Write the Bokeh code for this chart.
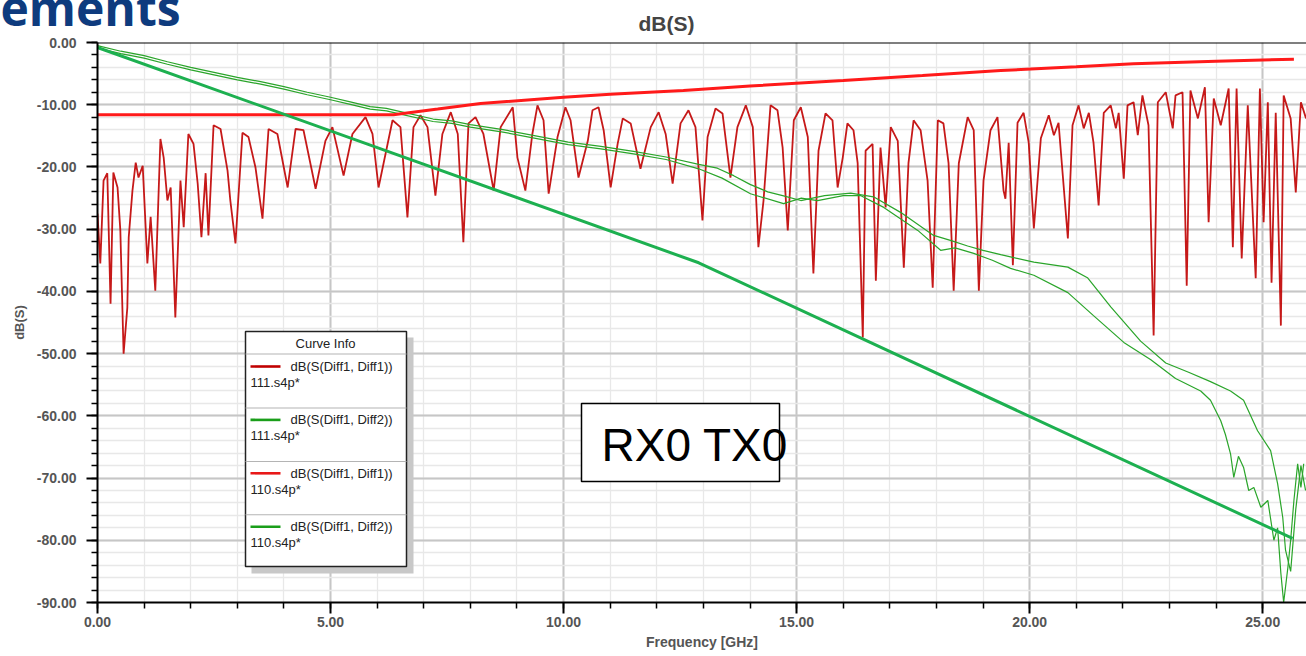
import math
from bokeh.plotting import figure
from bokeh.models import (Range1d, SingleIntervalTicker, NumeralTickFormatter, Label,
                          BoxAnnotation, Span, Title)
from bokeh.embed import file_html
from bokeh.resources import INLINE

# ---------------- data ----------------
# 111.s4p  dB(S(Diff1,Diff1))  - return loss, oscillating
rl111_f = [0.00, 0.06, 0.13, 0.21, 0.28, 0.34, 0.43, 0.49, 0.56, 0.64, 0.67, 0.75, 0.82, 0.88, 0.97,
           1.07, 1.14, 1.24, 1.35, 1.42, 1.50, 1.57, 1.67, 1.78, 1.85, 1.95, 2.06, 2.15, 2.23, 2.32,
           2.38, 2.49, 2.64, 2.79, 2.85, 2.96, 3.11, 3.24, 3.39, 3.54, 3.67, 3.86, 4.08, 4.25, 4.42,
           4.68, 4.89, 5.04, 5.28, 5.47, 5.75, 5.90, 6.03, 6.33, 6.50, 6.65, 6.78, 6.93, 7.08, 7.25,
           7.40, 7.58, 7.73, 7.85, 7.96, 8.11, 8.28, 8.50, 8.65, 8.91, 9.01, 9.18, 9.33, 9.44, 9.57,
           9.68, 9.87, 10.04, 10.15, 10.32, 10.52, 10.62, 10.75, 10.86, 11.01, 11.16, 11.27, 11.44,
           11.65, 11.87, 12.04, 12.19, 12.34, 12.51, 12.68, 12.83, 12.98, 13.09, 13.26, 13.41, 13.58,
           13.73, 13.91, 14.06, 14.18, 14.29, 14.44, 14.59, 14.70, 14.81, 14.94, 15.09, 15.24, 15.36,
           15.47, 15.62, 15.77, 15.88, 15.99, 16.09, 16.22, 16.31, 16.42, 16.48, 16.63, 16.70, 16.80,
           16.91, 17.02, 17.17, 17.30, 17.40, 17.51, 17.66, 17.81, 17.92, 18.03, 18.15, 18.26, 18.37,
           18.48, 18.67, 18.80, 18.91, 19.01, 19.16, 19.31, 19.44, 19.48, 19.55, 19.64, 19.74, 19.87,
           19.98, 20.09, 20.24, 20.41, 20.52, 20.62, 20.82, 20.92, 21.05, 21.16, 21.27, 21.37, 21.48,
           21.59, 21.74, 21.85, 21.91, 22.02, 22.10, 22.23, 22.32, 22.42, 22.55, 22.66, 22.75, 22.92,
           23.07, 23.13, 23.28, 23.37, 23.45, 23.61, 23.76, 23.84, 23.95, 24.10, 24.27, 24.36, 24.44,
           24.55, 24.68, 24.85, 24.94, 25.02, 25.11, 25.19, 25.28, 25.39, 25.45, 25.60, 25.71, 25.82,
           25.93]
rl111_db = [-27.5, -35.5, -22.2, -21.0, -42.0, -20.9, -23.3, -30.2, -50.0, -42.6, -31.3, -23.8, -19.3,
            -21.7, -19.8, -35.5, -28.0, -39.9, -15.5, -18.5, -25.4, -23.3, -44.2, -22.2, -29.7, -14.7,
            -16.3, -22.7, -31.3, -21.0, -31.0, -13.3, -13.9, -20.6, -25.4, -32.3, -14.5, -15.2, -20.1,
            -28.3, -13.9, -14.7, -23.3, -13.9, -14.1, -23.5, -15.8, -13.6, -21.4, -14.7, -12.0, -14.7,
            -23.3, -12.5, -13.6, -28.1, -13.6, -11.7, -13.6, -24.6, -14.7, -11.2, -14.7, -32.1, -13.0,
            -12.0, -14.7, -23.8, -13.6, -10.4, -18.5, -23.8, -14.7, -10.1, -12.5, -24.3, -15.2, -10.4,
            -12.5, -21.7, -15.8, -10.9, -10.4, -14.1, -23.3, -16.3, -12.2, -13.0, -20.3, -13.6, -11.2,
            -14.7, -22.7, -13.0, -10.9, -13.6, -28.6, -15.2, -10.6, -11.4, -21.7, -13.6, -10.1, -13.6,
            -32.9, -25.4, -10.1, -10.9, -16.9, -30.2, -12.5, -10.4, -15.2, -37.1, -17.4, -11.4, -12.5,
            -23.3, -18.5, -13.0, -14.1, -19.4, -47.4, -17.4, -16.3, -38.3, -16.9, -26.5, -13.6, -15.8,
            -36.2, -19.4, -12.5, -14.1, -22.2, -39.4, -12.5, -13.0, -19.4, -39.9, -19.4, -12.0, -14.1,
            -39.9, -22.2, -14.1, -12.0, -23.8, -25.1, -16.1, -35.8, -12.9, -11.3, -16.1, -29.9, -15.4,
            -11.7, -14.9, -12.9, -31.5, -13.3, -10.1, -13.8, -11.3, -16.1, -26.2, -11.3, -10.1, -13.8,
            -11.3, -21.9, -10.1, -9.6, -14.9, -8.5, -13.3, -47.1, -9.6, -8.0, -13.8, -8.5, -8.0, -39.1,
            -7.7, -12.2, -7.2, -28.9, -9.0, -13.3, -7.4, -32.9, -7.4, -34.7, -10.1, -37.9, -7.4, -28.9,
            -9.6, -38.6, -11.3, -45.5, -8.5, -12.2, -24.1, -9.6, -12.2]

# 111.s4p  dB(S(Diff1,Diff2))  - insertion loss, two close traces
il111a_f = [0.0, 0.5, 1.0, 1.5, 2.0, 2.5, 3.0, 3.5, 4.0, 4.5, 5.0, 5.4, 5.85, 6.2, 6.5, 7.2, 7.6, 8.0,
            8.7, 9.4, 10.1, 10.8, 11.5, 12.2, 12.9, 13.3, 13.65, 14.0, 14.38, 14.7, 15.09, 15.6, 16.16,
            16.65, 17.23, 17.94, 18.3, 18.67, 19.0, 19.38, 20.09, 20.82, 21.24, 21.74, 22.38, 22.92,
            23.41, 23.88, 24.31, 24.59, 24.89, 25.17, 25.32, 25.43, 25.49, 25.60, 25.71, 25.82, 25.92]
il111a_db = [-0.5, -1.4, -2.1, -3.1, -4.0, -4.8, -5.6, -6.3, -7.1, -8.0, -8.8, -9.5, -10.3, -10.6,
             -11.1, -12.3, -12.6, -13.2, -14.0, -15.0, -16.0, -16.7, -17.5, -18.4, -19.6, -20.2,
             -21.4, -22.8, -24.0, -24.6, -25.4, -24.6, -24.2, -24.8, -27.3, -31.0, -31.8, -32.7,
             -33.4, -34.1, -35.3, -36.1, -37.8, -42.5, -48.0, -51.5, -53.0, -54.5, -56.0, -57.5,
             -62.4, -65.6, -70.9, -76.3, -81.6, -85.0, -75.0, -68.0, -72.0]
il111b_f = [0.0, 0.5, 1.0, 1.5, 2.0, 2.5, 3.0, 3.5, 4.0, 4.5, 5.0, 5.4, 5.85, 6.2, 6.5, 7.2, 7.6, 8.0,
            8.7, 9.4, 10.1, 10.8, 11.5, 12.2, 12.9, 13.4, 14.01, 14.72, 15.1, 15.45, 16.0, 16.37,
            16.87, 17.6, 18.09, 18.4, 18.8, 19.2, 19.59, 20.09, 20.82, 21.37, 22.02, 22.6, 23.13,
            23.67, 23.88, 24.10, 24.20, 24.31, 24.38, 24.48, 24.59, 24.70, 24.81, 24.96, 25.11,
            25.24, 25.32, 25.39, 25.45, 25.54, 25.60, 25.67, 25.75, 25.82, 25.88]
il111b_db = [-0.9, -1.8, -2.5, -3.5, -4.4, -5.2, -6.0, -6.7, -7.5, -8.4, -9.2, -9.9, -10.7, -11.0,
             -11.5, -12.7, -13.0, -13.6, -14.4, -15.4, -16.4, -17.1, -17.9, -18.8, -20.3, -21.8,
             -24.3, -25.9, -25.0, -25.4, -24.6, -24.6, -26.5, -30.2, -33.4, -33.0, -33.9, -35.0,
             -36.3, -37.4, -40.2, -43.9, -48.2, -51.0, -54.0, -56.0, -57.5, -60.8, -63.0, -66.1,
             -69.9, -66.5, -68.3, -72.0, -71.5, -74.7, -73.6, -80.0, -78.0, -85.3, -90.0, -84.4,
             -80.0, -73.6, -67.7, -71.5, -67.7]

# 110.s4p  dB(S(Diff1,Diff1))  - smooth return loss
rl110_f = [0.0, 6.35, 7.3, 8.22, 10.0, 11.0, 12.57, 14.0, 16.0, 17.7, 19.38, 21.0, 22.23, 24.0, 25.67]
rl110_db = [-11.6, -11.6, -10.7, -9.8, -8.8, -8.3, -7.7, -7.0, -6.1, -5.3, -4.5, -3.9, -3.4, -3.0, -2.7]

# 110.s4p  dB(S(Diff1,Diff2))  - smooth insertion loss
il110_f = [0.0, 12.9, 25.64]
il110_db = [-0.8, -35.4, -79.7]

legend_names = ["dB(S(Diff1, Diff1))", "dB(S(Diff1, Diff2))", "dB(S(Diff1, Diff1))", "dB(S(Diff1, Diff2))"]
legend_files = ["111.s4p*", "111.s4p*", "110.s4p*", "110.s4p*"]
legend_colors = ["#c00000", "#1a9e1a", "#e81818", "#1a9e1a"]

# ---------------- figure ----------------
W, H = 1306, 656
p = figure(width=W, height=H, output_backend="svg", toolbar_location=None, title=None,
           x_range=Range1d(0, 25.94), y_range=Range1d(-90, 0),
           min_border_left=97, min_border_right=0, min_border_top=42, min_border_bottom=54,
           background_fill_color="white", border_fill_color="white")
p.outline_line_color = None

FONT = "Liberation Sans"

# chart title (nearest to the frame)
p.add_layout(Title(text="dB(S)", align="left", offset=541, standoff=11, vertical_align="top",
                   text_font=FONT, text_font_size="21px", text_font_style="bold",
                   text_color="#444444"), "above")
# slide-title fragment at the top-left corner (stacked above, with almost no height of its own)
try:
    p.add_layout(Title(text="ements", align="left", offset=-97, standoff=-66,
                       vertical_align="bottom", text_font="Open Sans", text_font_size="48px",
                       text_font_style="bold", text_color="#0e3b7e"), "above")
except ValueError:
    pass

for ax, iv in ((p.xaxis, 5), (p.yaxis, 10)):
    ax.ticker = SingleIntervalTicker(interval=iv, num_minor_ticks=5)
    ax.formatter = NumeralTickFormatter(format="0.00")
    ax.axis_line_color = "black"
    ax.axis_line_width = 2
    ax.major_tick_line_color = "black"
    ax.major_tick_line_width = 2
    ax.minor_tick_line_color = "black"
    ax.minor_tick_line_width = 1.5
    ax.major_tick_in = 0
    ax.major_tick_out = 11
    ax.minor_tick_in = 0
    ax.minor_tick_out = 6
    ax.major_label_text_font = FONT
    ax.major_label_text_font_size = "14px"
    ax.major_label_text_font_style = "bold"
    ax.major_label_text_color = "#555555"
    ax.axis_label_text_font = FONT
    ax.axis_label_text_font_style = "bold"
    ax.axis_label_text_color = "#555555"
p.yaxis.major_label_standoff = 10
p.xaxis.major_label_standoff = 3
p.xaxis.axis_label = "Frequency [GHz]"
p.xaxis.axis_label_text_font_size = "14px"
p.xaxis.axis_label_standoff = 4
p.yaxis.axis_label = "dB(S)"
p.yaxis.axis_label_text_font_size = "13px"
p.yaxis.axis_label_standoff = 7

for g in (p.xgrid, p.ygrid):
    g.grid_line_color = "#c6c6c6"
    g.grid_line_width = 2
    g.minor_grid_line_color = "#e8e8e8"
    g.minor_grid_line_width = 1.3

p.add_layout(Span(location=0, dimension="width", line_color="black", line_width=2))

# curves
p.line(rl111_f, rl111_db, line_color="#c00000", line_width=1.8, line_alpha=0.9)
p.line(il111a_f, il111a_db, line_color="#2aa52a", line_width=1.2)
p.line(il111b_f, il111b_db, line_color="#2aa52a", line_width=1.2)
p.line(rl110_f, rl110_db, line_color="#ff1a1a", line_width=3)
p.line(il110_f, il110_db, line_color="#1db050", line_width=3)

# ---------- annotations positioned in page pixels ----------
FL, FB = 97, 602  # frame left / bottom on the page


def sx(px):
    return px - FL


def sy(py):
    return FB - py


def lab(text, px, py, size, align="left", base="middle", color="#222222", style="normal",
        font=FONT, angle=0.0):
    p.add_layout(Label(x=sx(px), y=sy(py), x_units="screen", y_units="screen", text=text,
                       text_font=font, text_font_size=size, text_align=align,
                       text_baseline=base, text_color=color, text_font_style=style, angle=angle))


def box(l, t, r, b, fill="white", line=None, lw=1.0):
    p.add_layout(BoxAnnotation(left=sx(l), right=sx(r), top=sy(t), bottom=sy(b),
                               left_units="screen", right_units="screen",
                               top_units="screen", bottom_units="screen",
                               fill_color=fill, fill_alpha=1.0,
                               line_color=line, line_width=lw, line_alpha=1.0 if line else 0.0))


# legend ("Curve Info")
box(251, 337, 413, 573, fill="#c8c8c8")
box(245, 331, 406, 566, fill="white", line="#222222", lw=1.5)
lab("Curve Info", 325, 343, "13px", align="center")
box(245, 353, 406, 354, fill="#b4b4b4")
for i in range(4):
    y0 = 366 + i * 53.4
    box(250, y0 - 1.3, 280, y0 + 1.3, fill=legend_colors[i])
    lab(legend_names[i], 290, y0, "13px")
    lab(legend_files[i], 250, y0 + 16, "13px")
    if i < 3:
        box(245, y0 + 41, 406, y0 + 42, fill="#b4b4b4")

# RX0 TX0 box
box(581, 403, 779, 481, fill="white", line="black", lw=1.5)
lab("RX0 TX0", 601, 444, "46px", color="black")

open("out.html", "w").write(file_html(p, INLINE))
